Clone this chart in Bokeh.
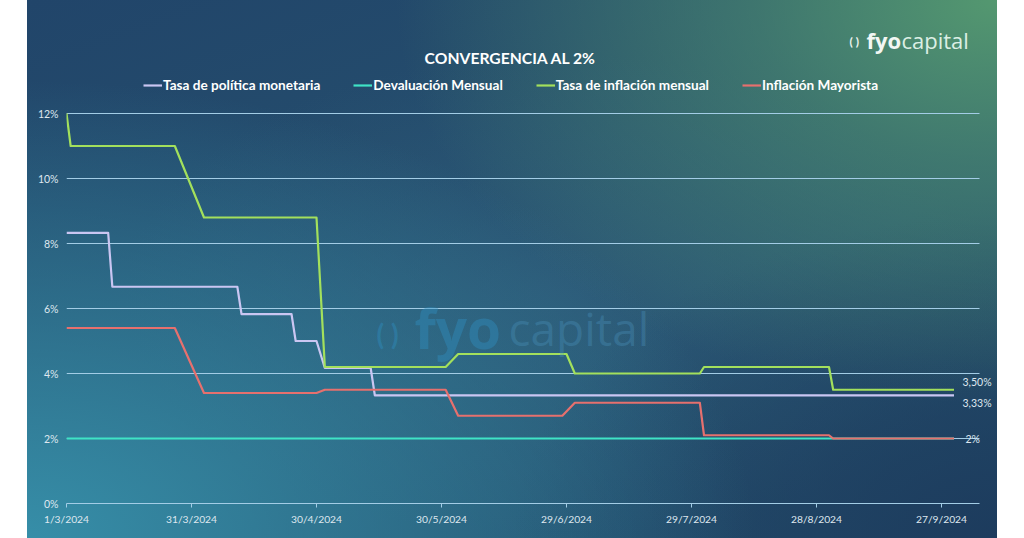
import pandas as pd
from bokeh.plotting import figure
from bokeh.models import Range1d, FixedTicker, Label, Legend, LegendItem
from bokeh.embed import file_html
from bokeh.resources import INLINE

# ---------------- data ----------------
start_date = "2024-03-01"
axis_end_days = 219

x_tick_dates = ["2024-03-01", "2024-03-31", "2024-04-30", "2024-05-30",
                "2024-06-29", "2024-07-29", "2024-08-28", "2024-09-27"]
x_tick_labels = ["1/3/2024", "31/3/2024", "30/4/2024", "30/5/2024",
                 "29/6/2024", "29/7/2024", "28/8/2024", "27/9/2024"]
y_ticks = [0, 2, 4, 6, 8, 10, 12]
y_tick_labels = ["0%", "2%", "4%", "6%", "8%", "10%", "12%"]

series_names = ["Tasa de política monetaria", "Devaluación Mensual",
                "Tasa de inflación mensual", "Inflación Mayorista"]
series_colors = ["#cac6f2", "#3fe3c6", "#a3e05c", "#e6706e"]

tpm_dates = ["2024-03-01", "2024-03-11", "2024-03-12", "2024-04-11", "2024-04-12",
             "2024-04-24", "2024-04-25", "2024-04-30", "2024-05-02", "2024-05-13",
             "2024-05-14", "2024-09-30"]
tpm_values = [8.33, 8.33, 6.67, 6.67, 5.83, 5.83, 5.00, 5.00, 4.17, 4.17, 3.33, 3.33]

dev_dates = ["2024-03-01", "2024-09-30"]
dev_values = [2.0, 2.0]

inf_dates = ["2024-03-01", "2024-03-02", "2024-03-27", "2024-04-03", "2024-04-30",
             "2024-05-02", "2024-05-31", "2024-06-03", "2024-06-29", "2024-07-01",
             "2024-07-31", "2024-08-01", "2024-08-31", "2024-09-01", "2024-09-30"]
inf_values = [12.0, 11.0, 11.0, 8.8, 8.8, 4.2, 4.2, 4.6, 4.6, 4.0, 4.0, 4.2, 4.2, 3.5, 3.5]

may_dates = ["2024-03-01", "2024-03-27", "2024-04-03", "2024-04-30", "2024-05-02",
             "2024-05-31", "2024-06-03", "2024-06-28", "2024-07-01", "2024-07-31",
             "2024-08-01", "2024-08-31", "2024-09-01", "2024-09-30"]
may_values = [5.4, 5.4, 3.4, 3.4, 3.5, 3.5, 2.7, 2.7, 3.1, 3.1, 2.1, 2.1, 2.0, 2.0]

end_labels = ["3,50%", "3,33%", "2%"]
end_label_values = [3.75, 3.08, 1.97]
end_label_px = [962, 962, 965]

title_text = "CONVERGENCIA AL 2%"


def days(ds):
    t0 = pd.Timestamp(start_date)
    return [(pd.Timestamp(d) - t0).days for d in ds]


# pixel helpers for annotation placement (page px -> data)
def xd(px):
    return (px - 66) / 4.1667


def yd(py):
    return (503 - py) / 32.5


# ---------------- figure ----------------
bg = ("radial-gradient(ellipse 62% 75% at 100% 0%, rgba(84,152,112,1) 0%, rgba(84,152,112,0.55) 40%, rgba(84,152,112,0) 100%),"
      "radial-gradient(ellipse 75% 85% at 0% 100%, rgba(54,142,168,1) 0%, rgba(54,142,168,0.5) 50%, rgba(54,142,168,0) 100%),"
      "radial-gradient(ellipse 50% 60% at 100% 100%, rgba(28,58,92,0.9) 0%, rgba(28,58,92,0) 100%),"
      "radial-gradient(ellipse 45% 45% at 55% 55%, rgba(46,92,122,0.8) 0%, rgba(46,92,122,0) 100%),"
      "linear-gradient(160deg, #21456a 0%, #27536f 60%, #224a6a 100%)")

p = figure(width=1024, height=538,
           x_range=Range1d(0, (1024 - 66) / 4.1667), y_range=Range1d(0, 503 / 32.5),
           output_backend="svg", toolbar_location=None,
           min_border_left=66, min_border_right=0, min_border_top=0, min_border_bottom=35,
           background_fill_color=None, border_fill_color=None, outline_line_color=None,
           styles={"background-image": bg,
                   "background-size": "970px 538px",
                   "background-position": "27px 0px",
                   "background-repeat": "no-repeat"})

font = "Lato"
label_col = "#dfe7ef"
grid_col = "#a3cde6"

# axes
p.xaxis.ticker = FixedTicker(ticks=days(x_tick_dates))
p.xaxis.major_label_overrides = dict(zip(days(x_tick_dates), x_tick_labels))
p.xaxis.bounds = (0, axis_end_days)
p.xaxis.axis_line_color = grid_col
p.xaxis.major_tick_line_color = grid_col
p.xaxis.major_tick_out = 4
p.xaxis.major_tick_in = 0
p.xaxis.minor_tick_line_color = None
p.xaxis.major_label_text_color = label_col
p.xaxis.major_label_text_font = font
p.xaxis.major_label_text_font_size = "10.3px"
p.xaxis.major_label_standoff = 5

p.yaxis.ticker = FixedTicker(ticks=y_ticks)
p.yaxis.major_label_overrides = dict(zip(y_ticks, y_tick_labels))
p.yaxis.axis_line_color = None
p.yaxis.major_tick_line_color = None
p.yaxis.minor_tick_line_color = None
p.yaxis.major_label_text_color = label_col
p.yaxis.major_label_text_font = font
p.yaxis.major_label_text_font_size = "10.5px"
p.yaxis.major_label_standoff = 2

p.xgrid.grid_line_color = None
p.ygrid.grid_line_color = grid_col
p.ygrid.grid_line_width = 1
p.ygrid.cross_bounds = (0, axis_end_days)

# watermark
wm_y = yd(327)
p.add_layout(Label(x=xd(376), y=yd(333), text="(  )", text_font=font, text_font_style="bold",
                   text_baseline="alphabetic", text_font_size="28px", text_color="#2f8fc2", text_alpha=0.42))
p.add_layout(Label(x=xd(414), y=wm_y, text="fyo", text_font="Open Sans", text_font_style="bold",
                   text_baseline="alphabetic", text_font_size="55px", text_color="#2f8fc2", text_alpha=0.42))
p.add_layout(Label(x=xd(508), y=wm_y, text="capital", text_font="Open Sans",
                   text_baseline="alphabetic", text_font_size="46px", text_color="#4b93bd", text_alpha=0.36))

# lines
all_x = [days(tpm_dates), days(dev_dates), days(inf_dates), days(may_dates)]
all_y = [tpm_values, dev_values, inf_values, may_values]
renderers = []
for xs, ys, c in zip(all_x, all_y, series_colors):
    r = p.line(xs, ys, line_color=c, line_width=2.2, line_join="round")
    renderers.append(r)

legend = Legend(items=[LegendItem(label=n, renderers=[r]) for n, r in zip(series_names, renderers)],
                orientation="horizontal", location=(77, 410),
                background_fill_alpha=0, border_line_color=None,
                label_text_color="white", label_text_font=font, label_text_font_style="bold",
                label_text_font_size="13.6px", glyph_width=19, glyph_height=14,
                label_standoff=1, spacing=33, padding=0, margin=0, label_height=14)
p.add_layout(legend)

# title
p.add_layout(Label(x=xd(510), y=yd(57), text=title_text, text_align="center",
                   text_baseline="middle", text_font=font, text_font_style="bold",
                   text_font_size="15.7px", text_color="white"))

# logo
logo_y = yd(39)
p.add_layout(Label(x=xd(849), y=yd(41), text="( )", text_font=font, text_font_style="bold",
                   text_baseline="alphabetic", text_font_size="12px", text_color="#eef5f0"))
p.add_layout(Label(x=xd(866), y=logo_y, text="fyo", text_font="Open Sans", text_font_style="bold",
                   text_baseline="alphabetic", text_font_size="22px", text_color="#f2f7f3"))
p.add_layout(Label(x=xd(901), y=logo_y, text="capital", text_font="Open Sans",
                   text_baseline="alphabetic", text_font_size="22px", text_color="#dcefe4"))

# end labels
for t, v, px in zip(end_labels, end_label_values, end_label_px):
    p.add_layout(Label(x=xd(px), y=v, text=t, text_baseline="middle",
                       text_font=font, text_font_size="10.5px", text_color=label_col))

open("out.html", "w").write(file_html(p, INLINE))
